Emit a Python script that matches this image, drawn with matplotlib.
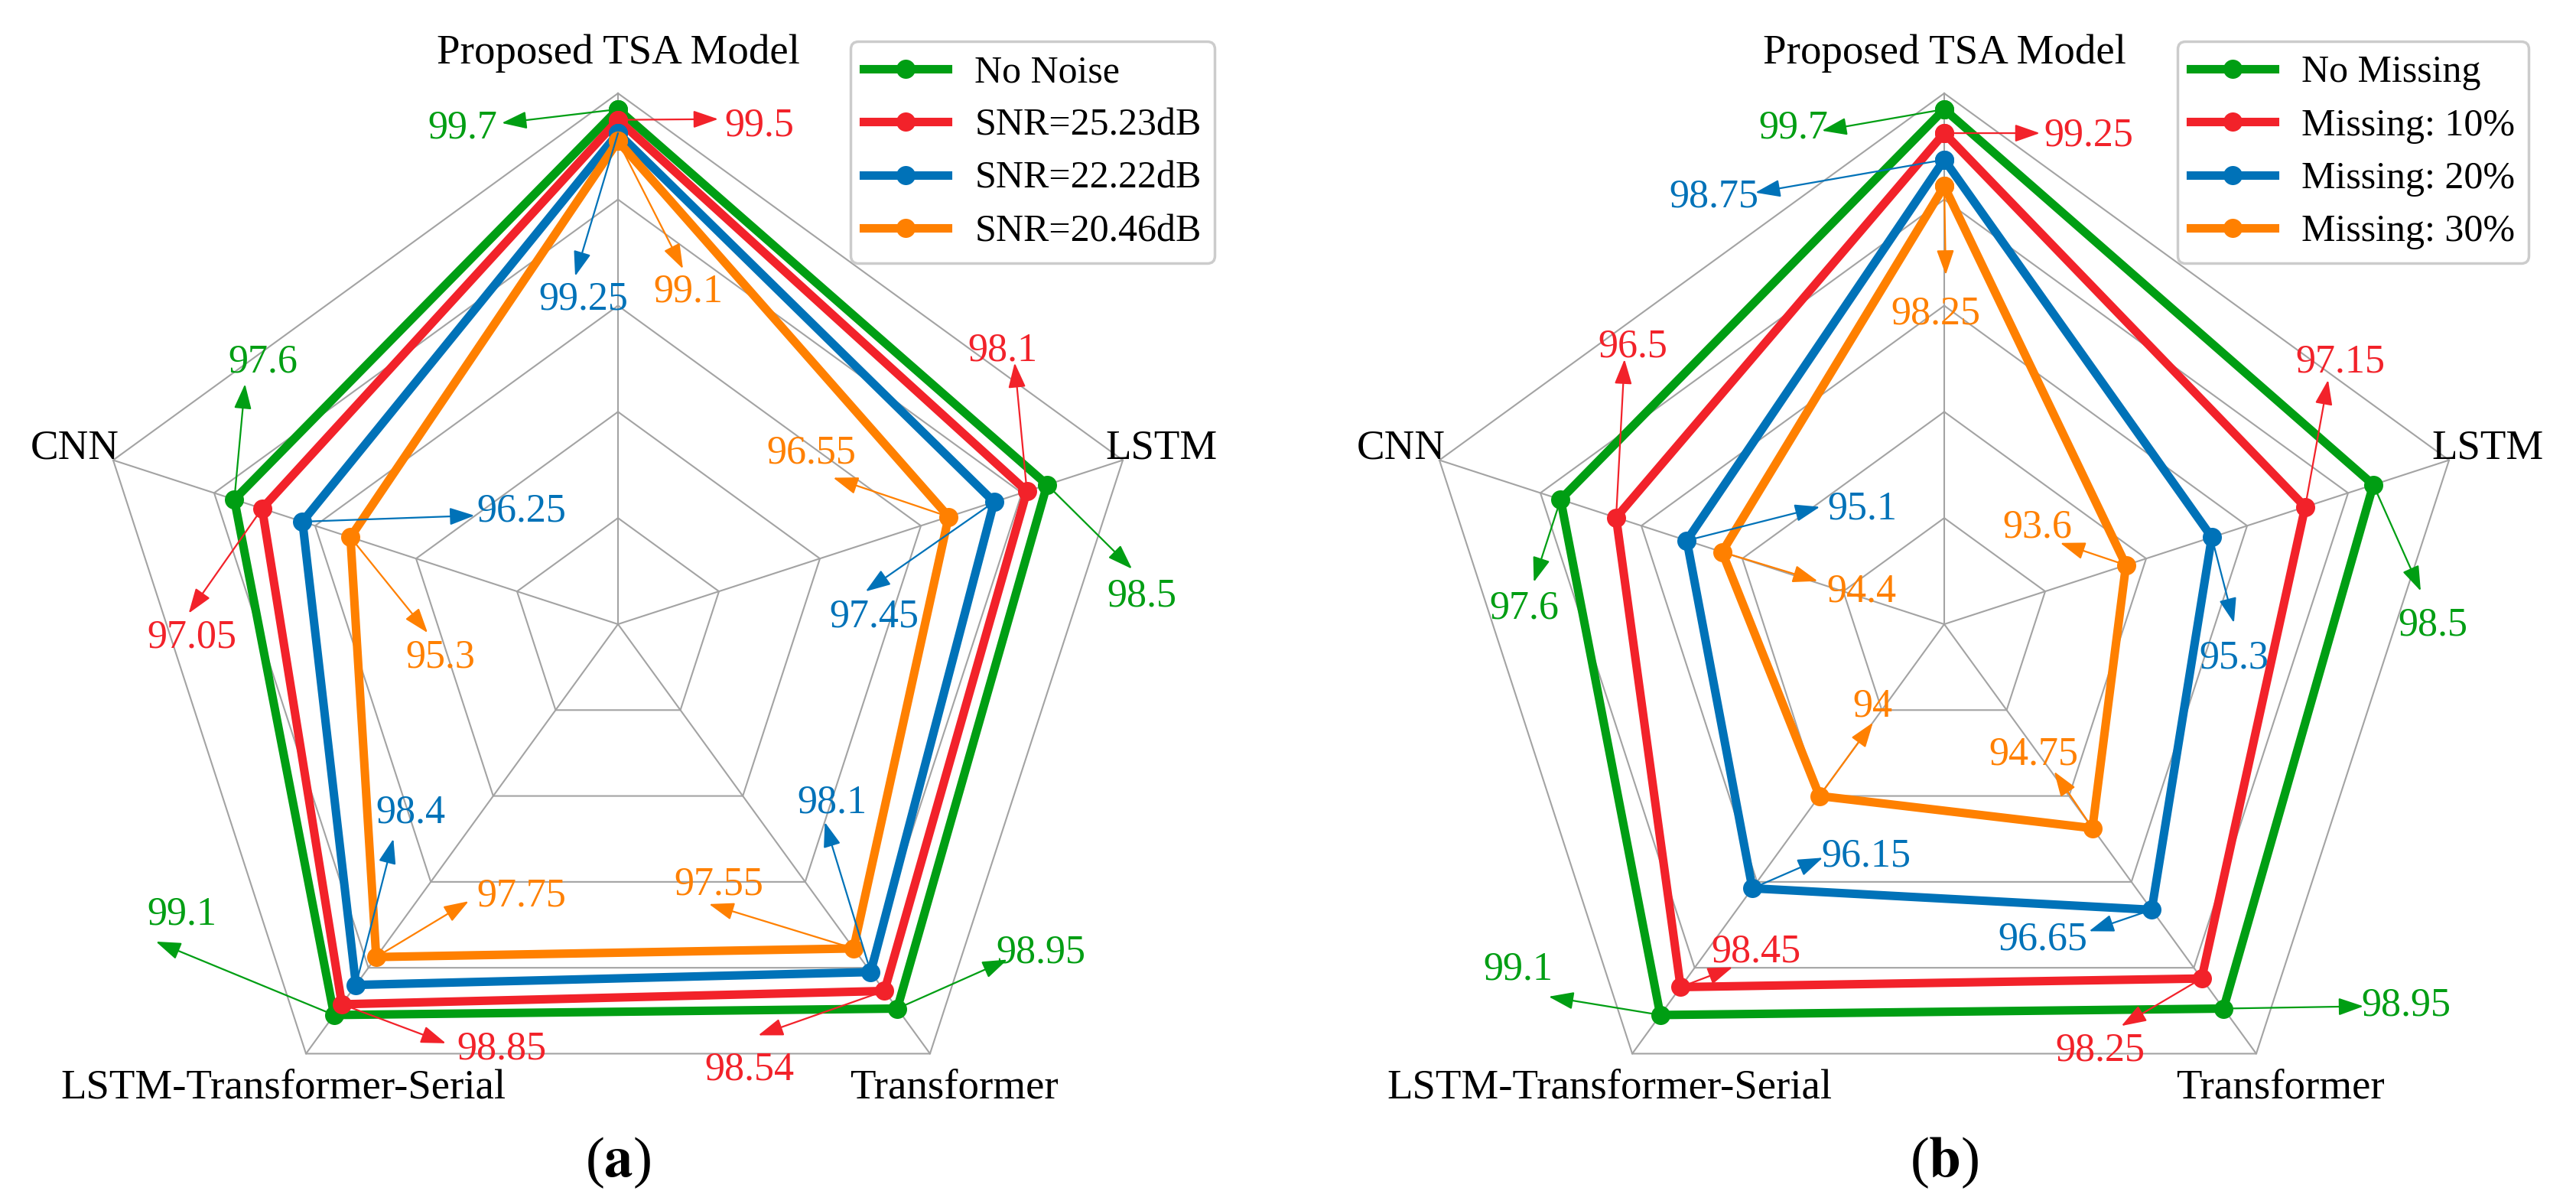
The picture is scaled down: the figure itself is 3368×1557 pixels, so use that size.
import numpy as np
import matplotlib
matplotlib.use('Agg')
import matplotlib.pyplot as plt

plt.rcParams['font.family'] = ['Liberation Serif', 'DejaVu Serif']
plt.rcParams['mathtext.fontset'] = 'stix'

# ---------------- data ----------------
categories = ['Proposed TSA Model', 'LSTM', 'Transformer', 'LSTM-Transformer-Serial', 'CNN']

labels_a = ['No Noise', 'SNR=25.23dB', 'SNR=22.22dB', 'SNR=20.46dB']
no_noise = [99.7, 98.5, 98.95, 99.1, 97.6]
snr_25 = [99.5, 98.1, 98.54, 98.85, 97.05]
snr_22 = [99.25, 97.45, 98.1, 98.4, 96.25]
snr_20 = [99.1, 96.55, 97.55, 97.75, 95.3]

labels_b = ['No Missing', 'Missing: 10%', 'Missing: 20%', 'Missing: 30%']
no_missing = [99.7, 98.5, 98.95, 99.1, 97.6]
missing_10 = [99.25, 97.15, 98.25, 98.45, 96.5]
missing_20 = [98.75, 95.3, 96.65, 96.15, 95.1]
missing_30 = [98.25, 93.6, 94.75, 94.0, 94.4]

rings = [92, 94, 96, 98, 100]
r_min, r_max = 90, 100

colors = ['#009E13', '#F2222A', '#0072B8', '#FF8000']

# ------------- layout (annotation offsets, screen pixels, y down) -------------
# text offsets (centre of digits) and arrow-head offsets relative to each point
text_off_a = [
    [(-203, 21), (124, 142), (188, -77), (-199, -135), (37, -184)],
    [(185, 4), (-32, -188), (-176, 99), (209, 55), (-92, 165)],
    [(-45, 213), (-157, 146), (-50, -225), (72, -229), (286, -17)],
    [(92, 193), (-180, -87), (-176, -87), (190, -84), (118, 153)],
]
head_off_a = [
    [(-152, 18), (111, 110), (144, -64), (-233, -96), (14, -151)],
    [(131, -1), (-16, -168), (-165, 58), (136, 51), (-96, 137)],
    [(-56, 187), (-168, 117), (-60, -196), (49, -191), (225, -8)],
    [(85, 167), (-151, -51), (-189, -58), (121, -73), (101, 125)],
]
text_off_b = [
    [(-197, 21), (78, 180), (239, -8), (-186, -63), (-48, 138)],
    [(189, -1), (46, -193), (-133, 90), (99, -50), (22, -227)],
    [(-301, 45), (29, 154), (-142, 35), (149, -46), (229, -45)],
    [(-11, 163), (-116, -53), (-77, -100), (70, -121), (182, 48)],
]
head_off_b = [
    [(-160, 28), (62, 139), (183, -3), (-146, -24), (-35, 108)],
    [(125, 0), (30, -166), (-105, 62), (68, -26), (11, -207)],
    [(-247, 43), (29, 112), (-82, 28), (92, -40), (174, -44)],
    [(2, 116), (-86, -29), (-50, -74), (70, -96), (125, 38)],
]
# category label offsets: (dx, dy baseline, ha)
cat_off = [(0, -39, 'center'), (-23, -2, 'left'), (32, 58, 'center'),
           (-30, 58, 'center'), (8, -2, 'right')]

W, H = 3368, 1557
CY, R = 816, 694
fig = plt.figure(figsize=(W / 100, H / 100), dpi=100)
angles = np.deg2rad(np.arange(len(categories)) * 72.0)
closed = np.append(angles, angles[0])


def radar(cx, series, names, toff, hoff, legend_right, letter):
    rect = [(cx - R) / W, 1 - (CY + R) / H, 2 * R / W, 2 * R / H]
    ax = fig.add_axes(rect, projection='polar')
    ax.set_theta_zero_location('N')
    ax.set_theta_direction(-1)
    ax.set_ylim(r_min, r_max)
    ax.set_axis_off()
    gc = '#A3A3A3'
    for rg in rings:
        ax.plot(closed, [rg] * len(closed), color=gc, lw=1.5, zorder=1, clip_on=False)
    for a in angles:
        ax.plot([a, a], [r_min, r_max], color=gc, lw=1.5, zorder=1, clip_on=False)
    for si, vals in enumerate(series):
        c = colors[si]
        ax.plot(closed, np.append(vals, vals[0]), color=c, lw=8, marker='o', ms=18,
                mew=0, label=names[si], zorder=3, clip_on=False)
    for si, vals in enumerate(series):
        c = colors[si]
        for ci, v in enumerate(vals):
            tdx, tdy = toff[si][ci]
            hdx, hdy = hoff[si][ci]
            ax.annotate(f'{v:g}', xy=(angles[ci], v), xytext=(tdx, -(tdy + 17)),
                        textcoords='offset pixels', ha='center', va='baseline',
                        fontsize=37.5, color=c, zorder=6, annotation_clip=False)
            ax.annotate('', xy=(angles[ci], v), xytext=(hdx, -hdy),
                        textcoords='offset pixels', annotation_clip=False, zorder=5,
                        arrowprops=dict(arrowstyle='<|-,head_length=1.0,head_width=0.35',
                                        color=c, lw=1.6, shrinkA=0, shrinkB=0,
                                        mutation_scale=20))
    for ci, cat in enumerate(categories):
        dx, dy, ha = cat_off[ci]
        ax.annotate(cat, xy=(angles[ci], r_max), xytext=(dx, -dy),
                    textcoords='offset pixels', ha=ha, va='baseline',
                    fontsize=39.5, color='black', annotation_clip=False)
    leg = ax.legend(loc='upper right', bbox_to_anchor=(legend_right / W, 1 - 54 / H),
                    bbox_transform=fig.transFigure, borderaxespad=0, fontsize=36,
                    handlelength=2.2, handletextpad=0.7, borderpad=0.35,
                    labelspacing=0.46, frameon=True, fancybox=True,
                    edgecolor='#CCCCCC', framealpha=1)
    leg.get_frame().set_linewidth(2.5)
    fig.text(cx / W, 1 - 1538 / H, '($\\mathbf{' + letter + '}$)', ha='center',
             va='baseline', fontsize=54)
    return ax


radar(808, [no_noise, snr_25, snr_22, snr_20], labels_a, text_off_a, head_off_a, 1588, 'a')
radar(2542, [no_missing, missing_10, missing_20, missing_30], labels_b, text_off_b,
      head_off_b, 3306, 'b')

fig.savefig('out.png', dpi=100)
